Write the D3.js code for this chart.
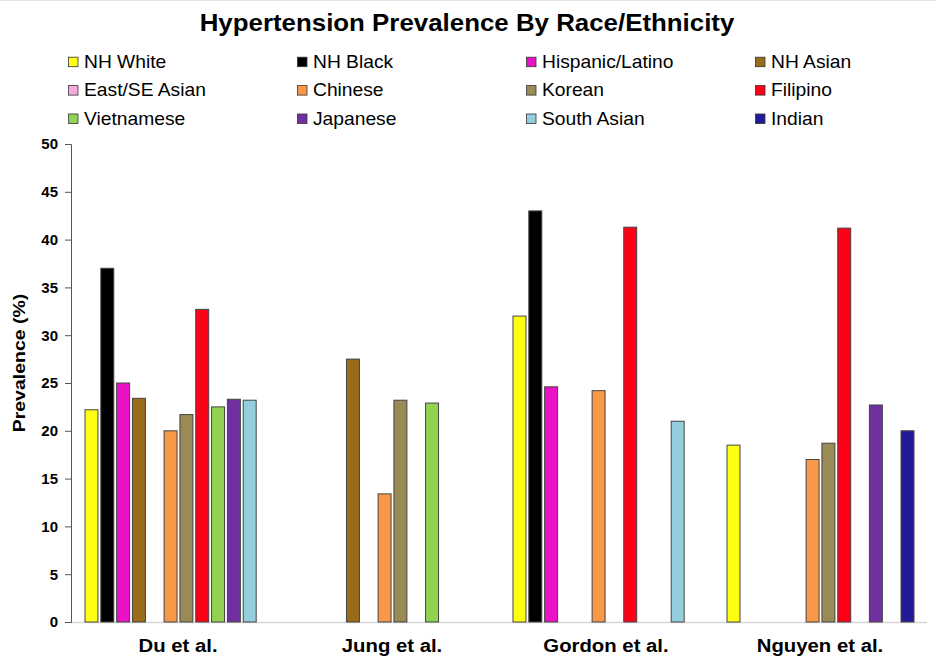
<!DOCTYPE html>
<html lang="en">
<head>
<meta charset="UTF-8">
<title>Hypertension Prevalence By Race/Ethnicity</title>
<script src="https://d3js.org/d3.v7.min.js"></script>
<style>
  body { margin: 0; background: #fff; font-family: "Liberation Sans", Arial, sans-serif; }
  .title { font-size: 23px; font-weight: bold; }
  .legend text { font-size: 17.5px; }
  .yaxis text { font-size: 15px; font-weight: bold; }
  .xlabel { font-size: 18px; font-weight: bold; }
  .ylabel { font-size: 19.5px; font-weight: bold; }
</style>
</head>
<body>
<svg id="chart" width="936" height="662"></svg>
<script>
const studies = ["Du et al.", "Jung et al.", "Gordon et al.", "Nguyen et al."];
const groups = ["NH White", "NH Black", "Hispanic/Latino", "NH Asian",
                "East/SE Asian", "Chinese", "Korean", "Filipino",
                "Vietnamese", "Japanese", "South Asian", "Indian"];
const colors = ["#ffff12", "#000000", "#ea12c6", "#996b1a",
                "#f7a8dc", "#f99848", "#9a8a55", "#ff0019",
                "#93d250", "#7030a0", "#94cddd", "#231a98"];
// null = not reported in that study
const duValues     = [22.2, 37.0, 25.0, 23.4, null, 20.0, 21.7, 32.7, 22.5, 23.3, 23.2, null];
const jungValues   = [null, null, null, 27.5, null, 13.4, 23.2, null, 22.9, null, null, null];
const gordonValues = [32.0, 43.0, 24.6, null, null, 24.2, null, 41.3, null, null, 21.0, null];
const nguyenValues = [18.5, null, null, null, null, 17.0, 18.7, 41.2, null, 22.7, null, 20.0];
const yTicks = [0, 5, 10, 15, 20, 25, 30, 35, 40, 45, 50];

const valueRows = [duValues, jungValues, gordonValues, nguyenValues];
const data = [];
studies.forEach((s, i) => {
  groups.forEach((g, j) => {
    if (valueRows[i][j] != null) data.push({ study: s, group: g, value: valueRows[i][j] });
  });
});

const svg = d3.select("#chart");
const plotLeft = 71, plotRight = 927, plotTop = 144, plotBottom = 622;

const x0 = d3.scaleBand().domain(studies).range([plotLeft, plotRight]);
const x1 = d3.scaleBand().domain(groups).range([14, 201]).paddingInner(0.18);
const y = d3.scaleLinear().domain([0, 50]).range([plotBottom, plotTop]);
const color = d3.scaleOrdinal().domain(groups).range(colors);

// faint frame line at the top
svg.append("line")
  .attr("x1", 0).attr("x2", 936).attr("y1", 0.5).attr("y2", 0.5)
  .attr("stroke", "#e4e4e4");

// the source text is a bit wider than it is tall, hence the scaleX
svg.append("text")
  .attr("class", "title")
  .attr("transform", "translate(467,31) scale(1.125,1)")
  .attr("text-anchor", "middle")
  .text("Hypertension Prevalence By Race/Ethnicity");

// legend, 4 columns x 3 rows
const legend = svg.append("g").attr("class", "legend");
groups.forEach((g, i) => {
  const col = i % 4, row = Math.floor(i / 4);
  const lg = legend.append("g")
    .attr("transform", `translate(${68.5 + col * 229},${67.7 + row * 28.4})`);
  lg.append("rect")
    .attr("x", 0).attr("y", -10.5).attr("width", 9.5).attr("height", 9.5)
    .attr("fill", color(g)).attr("stroke", "#333").attr("stroke-width", 0.8);
  lg.append("text")
    .attr("transform", "translate(15.5,0) scale(1.1,1)")
    .text(g);
});

// baseline
svg.append("line")
  .attr("x1", plotLeft).attr("x2", plotRight)
  .attr("y1", plotBottom + 0.5).attr("y2", plotBottom + 0.5)
  .attr("stroke", "#d8d8d8").attr("stroke-width", 1.5);

// bars
svg.append("g").selectAll("rect")
  .data(data)
  .join("rect")
  .attr("x", d => x0(d.study) + x1(d.group))
  .attr("y", d => y(d.value))
  .attr("width", x1.bandwidth())
  .attr("height", d => plotBottom - y(d.value))
  .attr("fill", d => color(d.group))
  .attr("stroke", "#444")
  .attr("stroke-width", 1);

// y axis
const yAxis = svg.append("g")
  .attr("class", "yaxis")
  .attr("transform", `translate(${plotLeft},0)`)
  .call(d3.axisLeft(y).tickValues(yTicks).tickSize(6).tickPadding(7));
yAxis.select(".domain").attr("stroke", "#555");
yAxis.selectAll(".tick line").attr("stroke", "#555");
yAxis.selectAll("text").attr("fill", "#000").style("font-family", "Liberation Sans, Arial, sans-serif");

svg.append("text")
  .attr("class", "ylabel")
  .attr("transform", "translate(25,363) rotate(-90) scale(1,0.88)")
  .attr("text-anchor", "middle")
  .text("Prevalence (%)");

// x labels
svg.append("g").selectAll("text")
  .data(studies)
  .join("text")
  .attr("class", "xlabel")
  .attr("transform", d => `translate(${x0(d) + x0.bandwidth() / 2},652) scale(1.13,1)`)
  .attr("text-anchor", "middle")
  .text(d => d);
</script>
</body>
</html>
